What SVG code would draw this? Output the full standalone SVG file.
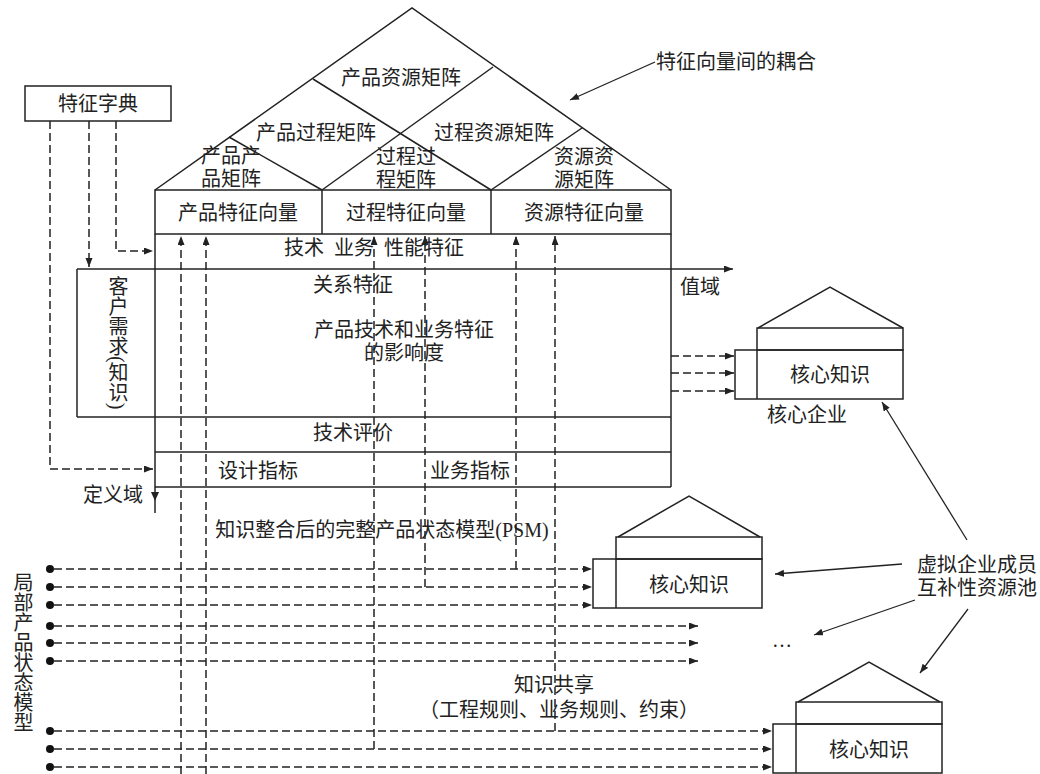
<svg xmlns="http://www.w3.org/2000/svg" width="1040" height="774" viewBox="0 0 1040 774">
<style>
text{font-family:"Liberation Serif","Noto Sans CJK SC",serif;font-size:20px;fill:#222;dominant-baseline:central;text-anchor:middle}
.s{fill:none;stroke:#222;stroke-width:1.5}
.d{fill:none;stroke:#222;stroke-width:1.5;stroke-dasharray:8 4}
.a{fill:none;stroke:#222;stroke-width:1.3}
.v{writing-mode:vertical-rl;text-anchor:start}
.dot{fill:#111}
</style>
<defs>
<marker id="ah" markerUnits="userSpaceOnUse" markerWidth="10" markerHeight="8" refX="9" refY="3.5" orient="auto"><path d="M0,0 L9,3.5 L0,7 z" fill="#222" stroke="none"/></marker>
</defs>
<rect width="1040" height="774" fill="#fff"/>

<g id="dictionary">
<rect class="s" x="25" y="86" width="146" height="35"/>
<text x="98" y="104">特征字典</text>
</g>

<g id="matrix-roof">
<polyline class="s" points="155,190 412,8 671,190"/>
<line class="s" x1="229" y1="137" x2="322" y2="190"/>
<line class="s" x1="313" y1="79" x2="491" y2="190"/>
<line class="s" x1="322" y1="190" x2="493" y2="67"/>
<line class="s" x1="491" y1="190" x2="582" y2="128"/>
<text x="401" y="78">产品资源矩阵</text>
<text x="316" y="133">产品过程矩阵</text>
<text x="494" y="133">过程资源矩阵</text>
<text x="231" y="156">产品产</text>
<text x="231" y="179">品矩阵</text>
<text x="406" y="157">过程过</text>
<text x="406" y="180">程矩阵</text>
<text x="584" y="157">资源资</text>
<text x="584" y="180">源矩阵</text>
</g>

<g id="feature-vectors">
<rect class="s" x="155" y="190" width="516" height="44"/>
<line class="s" x1="322" y1="190" x2="322" y2="234"/>
<line class="s" x1="491" y1="190" x2="491" y2="234"/>
<text x="238" y="213">产品特征向量</text>
<text x="406" y="213">过程特征向量</text>
<text x="584" y="213">资源特征向量</text>
</g>

<g id="relation-table">
<line class="s" x1="155" y1="234" x2="155" y2="513"/>
<polygon points="151,492 159,492 155,501" fill="#222"/>
<line class="s" x1="671" y1="234" x2="671" y2="487"/>
<line class="s" x1="77" y1="269" x2="733" y2="269" marker-end="url(#ah)"/>
<line class="s" x1="77" y1="269" x2="77" y2="417"/>
<line class="s" x1="77" y1="417" x2="671" y2="417"/>
<line class="s" x1="155" y1="452" x2="671" y2="452"/>
<line class="s" x1="155" y1="487" x2="671" y2="487"/>
<text x="374" y="248" xml:space="preserve">技术  业务  性能特征</text>
<text x="353" y="285">关系特征</text>
<text x="404" y="330">产品技术和业务特征</text>
<text x="404" y="353">的影响度</text>
<text x="700" y="287">值域</text>
<text x="353" y="433">技术评价</text>
<text x="258" y="471">设计指标</text>
<text x="470" y="471">业务指标</text>
<text x="113" y="495">定义域</text>
<text class="v" x="117" y="276">客户需求(知识)</text>
</g>

<g id="core-enterprise">
<polyline class="s" points="758,328 830,287 903,328"/>
<rect class="s" x="757" y="328" width="146" height="22"/>
<rect class="s" x="735" y="350" width="168" height="49"/>
<line class="s" x1="757" y1="350" x2="757" y2="399"/>
<text x="830" y="375">核心知识</text>
<text x="807" y="415">核心企业</text>
</g>

<g id="member-a">
<polyline class="s" points="618,537 689,496 760,537"/>
<rect class="s" x="616" y="537" width="146" height="22"/>
<rect class="s" x="593" y="559" width="169" height="49"/>
<line class="s" x1="616" y1="559" x2="616" y2="608"/>
<text x="689" y="585">核心知识</text>
</g>

<g id="member-b">
<polyline class="s" points="798,702 869,662 940,702"/>
<rect class="s" x="796" y="702" width="146" height="22"/>
<rect class="s" x="773" y="724" width="169" height="49"/>
<line class="s" x1="796" y1="724" x2="796" y2="773"/>
<text x="869" y="750">核心知识</text>
</g>

<g id="labels">
<text x="736" y="62">特征向量间的耦合</text>
<text x="382" y="530">知识整合后的完整产品状态模型(PSM)</text>
<text x="554" y="685">知识共享</text>
<text x="559" y="710">（工程规则、业务规则、约束）</text>
<text x="977" y="565">虚拟企业成员</text>
<text x="977" y="588">互补性资源池</text>
<text x="782" y="640">…</text>
<text class="v" x="22" y="572">局部产品状态模型</text>
</g>

<g id="local-models">
<circle class="dot" cx="50" cy="569" r="4"/>
<circle class="dot" cx="50" cy="587" r="4"/>
<circle class="dot" cx="50" cy="605" r="4"/>
<circle class="dot" cx="50" cy="626" r="4"/>
<circle class="dot" cx="50" cy="643" r="4"/>
<circle class="dot" cx="50" cy="661" r="4"/>
<circle class="dot" cx="50" cy="731" r="4"/>
<circle class="dot" cx="50" cy="749" r="4"/>
<circle class="dot" cx="50" cy="767" r="4"/>
</g>

<g id="connectors">
<path class="d" d="M50,121 V469 H153" marker-end="url(#ah)"/>
<path class="d" d="M89,121 V267" marker-end="url(#ah)"/>
<path class="d" d="M116,121 V251 H153" marker-end="url(#ah)"/>
<path class="d" d="M181,774 V236" marker-end="url(#ah)"/>
<path class="d" d="M206,774 V236" marker-end="url(#ah)"/>
<path class="d" d="M374,749 V236" marker-end="url(#ah)"/>
<path class="d" d="M425,587 V236" marker-end="url(#ah)"/>
<path class="d" d="M516,569 V236" marker-end="url(#ah)"/>
<path class="d" d="M555,731 V236" marker-end="url(#ah)"/>
<path class="d" d="M54,569 H592" marker-end="url(#ah)"/>
<path class="d" d="M54,587 H592" marker-end="url(#ah)"/>
<path class="d" d="M54,605 H592" marker-end="url(#ah)"/>
<path class="d" d="M54,626 H698" marker-end="url(#ah)"/>
<path class="d" d="M54,643 H698" marker-end="url(#ah)"/>
<path class="d" d="M54,661 H698" marker-end="url(#ah)"/>
<path class="d" d="M54,731 H772" marker-end="url(#ah)"/>
<path class="d" d="M54,749 H772" marker-end="url(#ah)"/>
<path class="d" d="M54,767 H772" marker-end="url(#ah)"/>
<path class="d" d="M671,356 H734" marker-end="url(#ah)"/>
<path class="d" d="M671,373 H734" marker-end="url(#ah)"/>
<path class="d" d="M671,391 H734" marker-end="url(#ah)"/>
<line class="a" x1="655" y1="62" x2="570" y2="100" marker-end="url(#ah)"/>
<line class="a" x1="967" y1="540" x2="882" y2="402" marker-end="url(#ah)"/>
<line class="a" x1="902" y1="564" x2="775" y2="574" marker-end="url(#ah)"/>
<line class="a" x1="915" y1="600" x2="814" y2="635" marker-end="url(#ah)"/>
<line class="a" x1="968" y1="609" x2="920" y2="673" marker-end="url(#ah)"/>
</g>
</svg>
